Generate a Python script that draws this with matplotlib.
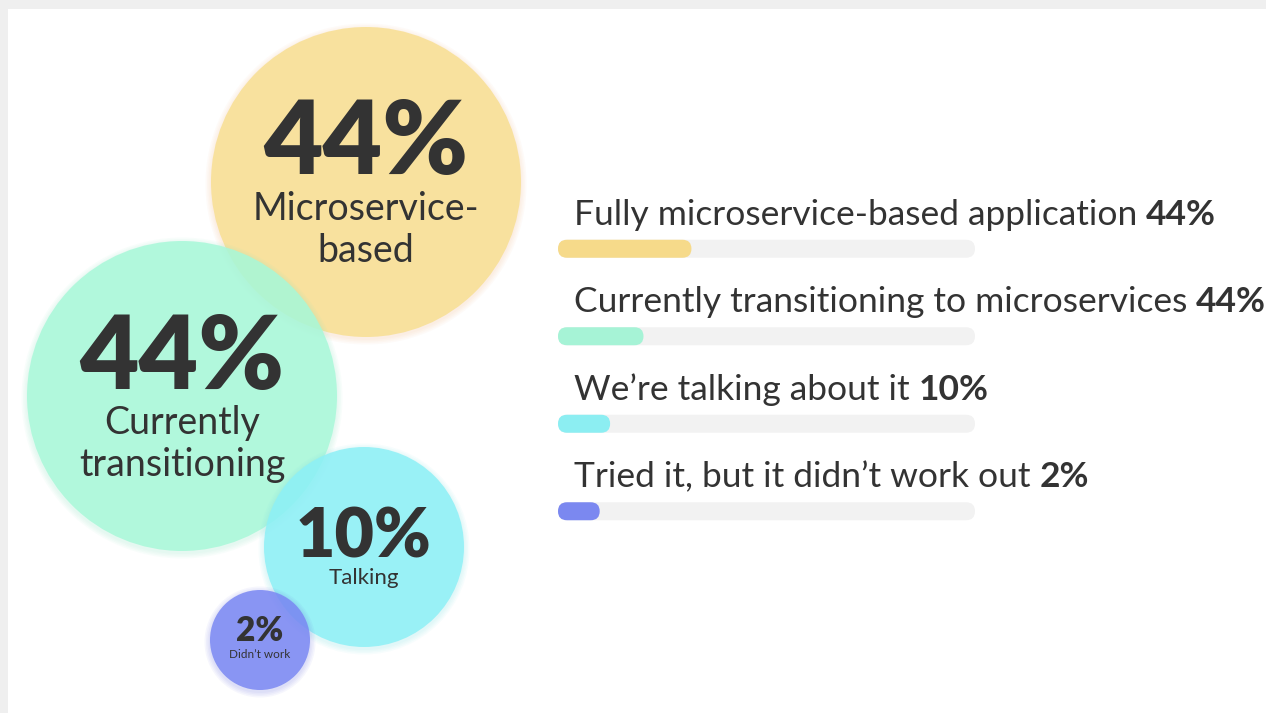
import matplotlib.pyplot as plt
from matplotlib.patches import Circle, Rectangle, FancyBboxPatch

plt.rcParams['font.family'] = ['Lato', 'DejaVu Sans']

# data
categories = ['Fully microservice-based application', 'Currently transitioning to microservices',
              "We\u2019re talking about it", "Tried it, but it didn\u2019t work out"]
values = [44, 44, 10, 2]
bar_fill = [0.32, 0.205, 0.125, 0.10]   # filled share of each track as drawn
bubble_labels = ['Microservice-\nbased', 'Currently\ntransitioning', 'Talking', 'Didn\u2019t work']

circle_colors = ['#F8DF92', '#A8F8D9', '#8DF0F6', '#7A88F3']
bar_colors = ['#F6DA8A', '#A6F3D6', '#8CEEF2', '#7B88F0']
glow_colors = ['#F5B98A', '#8EE8C4', '#7ADDE8', '#6C70E0']
txt = '#333333'

W, H = 1266, 713
fig = plt.figure(figsize=(W / 100, H / 100), dpi=100, facecolor='#EFEFEF')

# bubbles, in pixel coordinates
ax = fig.add_axes([0, 0, 1, 1])
ax.set_xlim(0, W)
ax.set_ylim(H, 0)
ax.axis('off')
ax.add_patch(Rectangle((8, 9), W, H, facecolor='white', edgecolor='none', zorder=0))

centers = [(366, 182), (182, 396), (364, 547), (260, 640)]
radii = [155, 155, 100, 50]
num_sizes = [74, 74, 49, 24]
lab_sizes = [27, 27, 16, 8.5]
num_dy = [-38, -37, -9, -9]
lab_dy = [48, 48, 31, 14]
for i in range(4):
    cx, cy = centers[i]
    r = radii[i]
    # soft glow
    for k in range(4):
        ax.add_patch(Circle((cx, cy + 2), r + 1 + k * 1.5, facecolor=glow_colors[i],
                            edgecolor='none', alpha=0.06, zorder=1 + i))
    ax.add_patch(Circle((cx, cy), r, facecolor=circle_colors[i], edgecolor='none',
                        alpha=0.85, zorder=2 + i))
    ax.text(cx, cy + num_dy[i], f'{values[i]}%', ha='center', va='center',
            fontsize=num_sizes[i], fontweight='heavy', color=txt, zorder=10)
    ax.text(cx, cy + lab_dy[i], bubble_labels[i], ha='center', va='center',
            fontsize=lab_sizes[i], color=txt, linespacing=1.2, zorder=10)

# progress bars
x0, x1 = 558, 975
top, bot = 205, 555
axb = fig.add_axes([x0 / W, 1 - bot / H, (x1 - x0) / W, (bot - top) / H])
axb.set_xlim(0, 1)
axb.set_ylim(3.5, -0.5)
axb.axis('off')
axb.patch.set_alpha(0)

bh = 18 / 87.5
aspect = (4 / (bot - top)) / (1 / (x1 - x0))
rows = list(range(len(categories)))


def rounded(bars, color):
    for p in bars.patches:
        bb = p.get_bbox()
        fb = FancyBboxPatch((bb.xmin, bb.ymin), bb.width, bb.height,
                            boxstyle='round,pad=0,rounding_size=%f' % (9 / (x1 - x0)),
                            mutation_aspect=aspect,
                            facecolor=color, edgecolor='none', zorder=p.get_zorder())
        p.remove()
        axb.add_patch(fb)


track = axb.barh(rows, [1] * 4, height=bh, zorder=1)
rounded(track, '#F2F2F2')
for i in rows:
    b = axb.barh([i], [bar_fill[i]], height=bh, zorder=2)
    rounded(b, bar_colors[i])
    t = axb.text(0.038, i - 0.39, categories[i] + ' ', ha='left', va='center',
                 fontsize=25.5, color=txt)
    axb.annotate(f'{values[i]}%', xy=(1, 0), xycoords=t, ha='left', va='bottom',
                 fontsize=25.5, fontweight='bold', color=txt)

fig.savefig('out.png', dpi=100, facecolor=fig.get_facecolor())
